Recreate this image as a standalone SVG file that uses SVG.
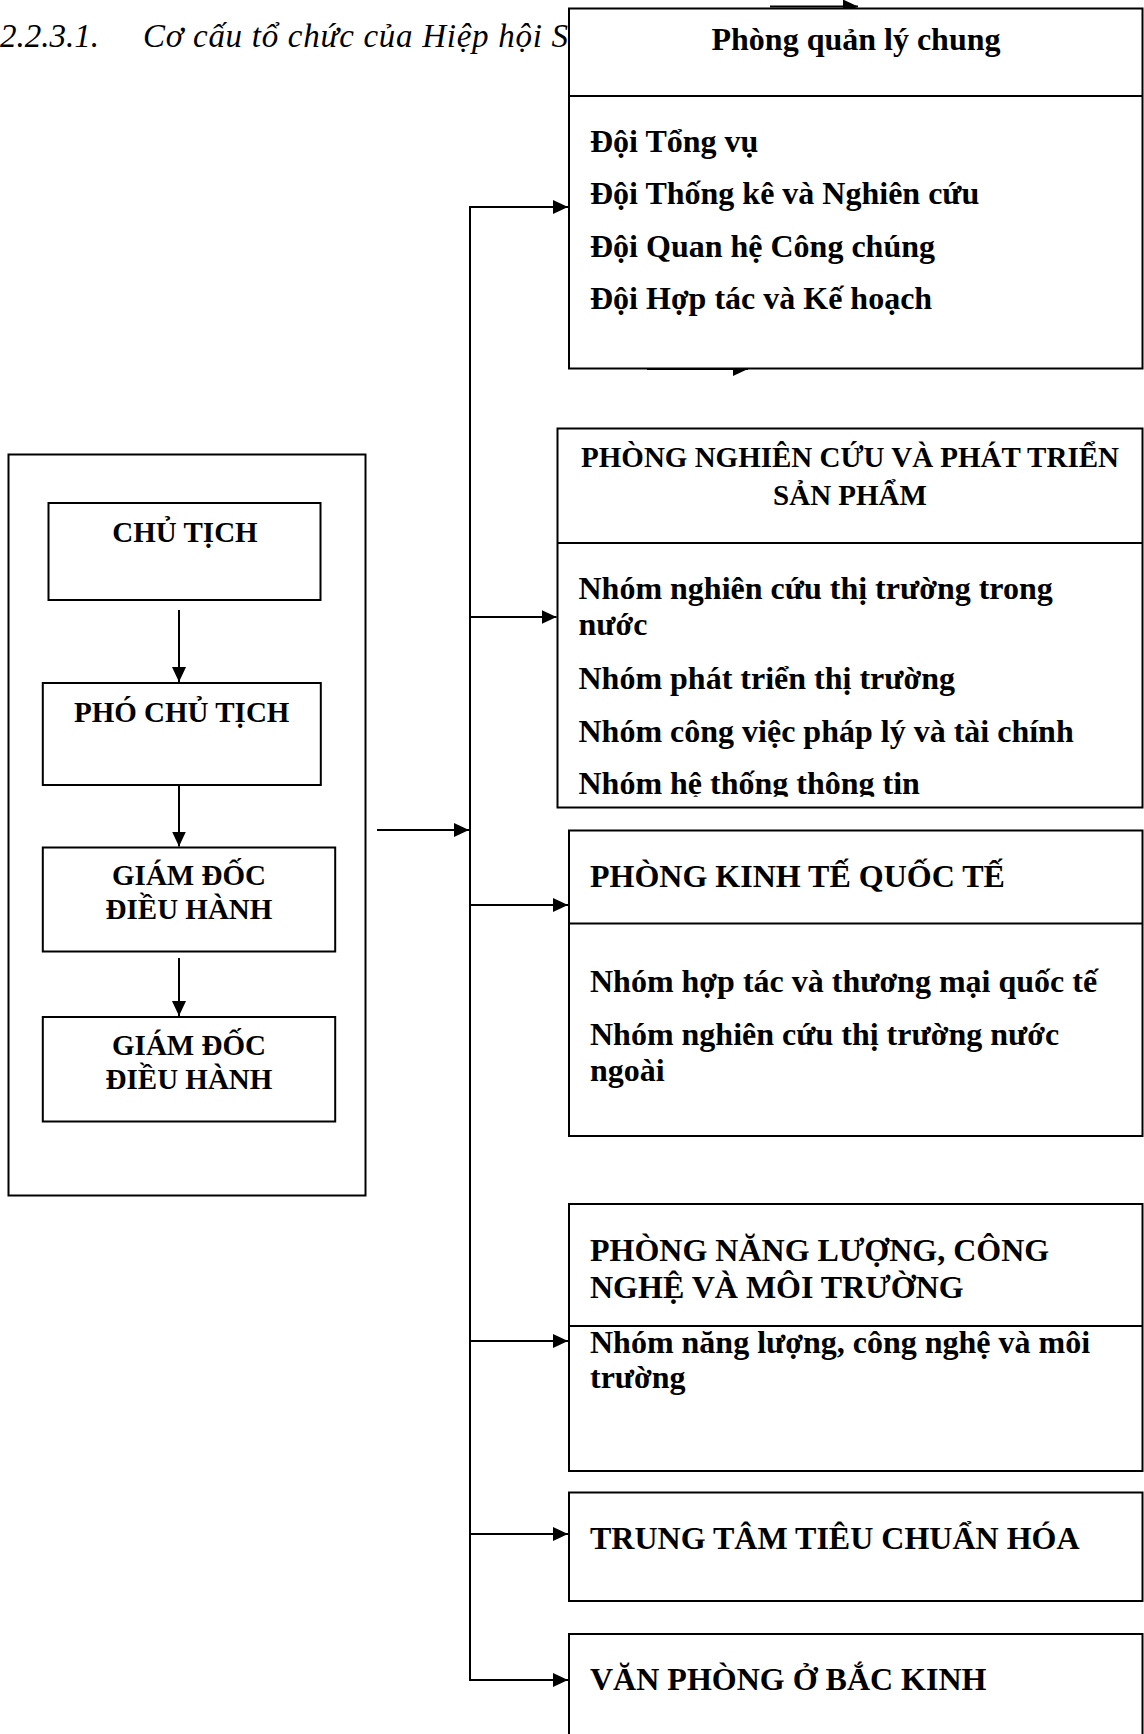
<svg xmlns="http://www.w3.org/2000/svg" width="1144" height="1734" viewBox="0 0 1144 1734">
<style>
.box{fill:#fff;stroke:#000;stroke-width:2}
.dv{stroke:#000;stroke-width:2}
.t{font-family:"Liberation Serif","Times New Roman",serif;font-weight:bold;font-size:32px;fill:#000}
.s{font-size:29px}
.c{text-anchor:middle}
.title{font-family:"Liberation Serif","Times New Roman",serif;font-style:italic;font-size:33px;fill:#000}
.con{stroke:#000;stroke-width:2;fill:none}
.arr{marker-end:url(#ah)}
</style>
<defs>
<marker id="ah" markerUnits="userSpaceOnUse" markerWidth="16" markerHeight="16" refX="15" refY="7" orient="auto"><path d="M0,0 L15,7 L0,14 Z" fill="#000"/></marker>
<clipPath id="clip2"><rect x="557" y="543" width="587" height="253.7"/></clipPath>
<clipPath id="outside1"><rect x="0" y="0" width="1144" height="8"/><rect x="0" y="368" width="1144" height="1366"/></clipPath>
</defs>

<g id="title">
<text class="title" x="0" y="47">2.2.3.1.</text>
<text class="title" x="143" y="47" textLength="425" lengthAdjust="spacing">Cơ cấu tổ chức của Hiệp hội S</text>
</g>

<g id="leadership">
<rect class="box" x="8.5" y="454.5" width="357" height="741"/>
<g id="chu-tich">
<rect class="box" x="48.5" y="503" width="272" height="97"/>
<text class="t s c" x="185" y="542">CHỦ TỊCH</text>
</g>
<g id="pho-chu-tich">
<rect class="box" x="42.8" y="683" width="278" height="102"/>
<text class="t s c" x="181.7" y="722">PHÓ CHỦ TỊCH</text>
</g>
<g id="giam-doc-1">
<rect class="box" x="42.8" y="847.5" width="292.4" height="104"/>
<text class="t s c" x="189" y="885">GIÁM ĐỐC</text>
<text class="t s c" x="189" y="919">ĐIỀU HÀNH</text>
</g>
<g id="giam-doc-2">
<rect class="box" x="42.8" y="1017" width="292.4" height="104.5"/>
<text class="t s c" x="189" y="1055">GIÁM ĐỐC</text>
<text class="t s c" x="189" y="1088.5">ĐIỀU HÀNH</text>
</g>
</g>

<g id="phong-quan-ly-chung">
<rect class="box" x="569" y="8.5" width="573.5" height="360"/>
<line class="dv" x1="569" y1="96" x2="1142.5" y2="96"/>
<text class="t c" x="856" y="50">Phòng quản lý chung</text>
<text class="t" x="590" y="152">Đội Tổng vụ</text>
<text class="t" x="590" y="204.3">Đội Thống kê và Nghiên cứu</text>
<text class="t" x="590" y="256.6">Đội Quan hệ Công chúng</text>
<text class="t" x="590" y="308.9">Đội Hợp tác và Kế hoạch</text>
</g>

<g id="phong-nghien-cuu">
<rect class="box" x="557.5" y="428.5" width="585" height="379"/>
<line class="dv" x1="557.5" y1="543" x2="1142.5" y2="543"/>
<text class="t s c" x="850" y="467">PHÒNG NGHIÊN CỨU VÀ PHÁT TRIỂN</text>
<text class="t s c" x="850" y="505">SẢN PHẨM</text>
<g clip-path="url(#clip2)">
<text class="t" x="578.5" y="599">Nhóm nghiên cứu thị trường trong</text>
<text class="t" x="578.5" y="635">nước</text>
<text class="t" x="578.5" y="689">Nhóm phát triển thị trường</text>
<text class="t" x="578.5" y="741.7">Nhóm công việc pháp lý và tài chính</text>
<text class="t" x="578.5" y="793.5">Nhóm hệ thống thông tin</text>
</g>
</g>

<g id="phong-kinh-te-quoc-te">
<rect class="box" x="569" y="830.5" width="573.5" height="305.5"/>
<line class="dv" x1="569" y1="923.5" x2="1142.5" y2="923.5"/>
<text class="t" x="590" y="887">PHÒNG KINH TẾ QUỐC TẾ</text>
<text class="t" x="590" y="991.7">Nhóm hợp tác và thương mại quốc tế</text>
<text class="t" x="590" y="1045">Nhóm nghiên cứu thị trường nước</text>
<text class="t" x="590" y="1081">ngoài</text>
</g>

<g id="phong-nang-luong">
<rect class="box" x="569" y="1204" width="573.5" height="267"/>
<line class="dv" x1="569" y1="1326" x2="1142.5" y2="1326"/>
<text class="t" x="590" y="1260.7">PHÒNG NĂNG LƯỢNG, CÔNG</text>
<text class="t" x="590" y="1297.7">NGHỆ VÀ MÔI TRƯỜNG</text>
<text class="t" x="590" y="1353.3">Nhóm năng lượng, công nghệ và môi</text>
<text class="t" x="590" y="1388.3">trường</text>
</g>

<g id="trung-tam-tieu-chuan-hoa">
<rect class="box" x="569" y="1492.5" width="573.5" height="108.5"/>
<text class="t" x="590" y="1549">TRUNG TÂM TIÊU CHUẨN HÓA</text>
</g>

<g id="van-phong-bac-kinh">
<rect class="box" x="569" y="1634" width="573.5" height="120"/>
<text class="t" x="590" y="1690">VĂN PHÒNG Ở BẮC KINH</text>
</g>

<g id="connectors">
<line class="con arr" x1="179" y1="610" x2="179" y2="682"/>
<line class="con arr" x1="179" y1="785" x2="179" y2="846.5"/>
<line class="con arr" x1="179" y1="958" x2="179" y2="1016"/>
<line class="con arr" x1="377" y1="830" x2="469" y2="830"/>
<line class="con" x1="470" y1="206" x2="470" y2="1681"/>
<line class="con arr" x1="469" y1="207" x2="568" y2="207"/>
<line class="con arr" x1="469" y1="617" x2="556.5" y2="617"/>
<line class="con arr" x1="469" y1="905" x2="568" y2="905"/>
<line class="con arr" x1="469" y1="1341" x2="568" y2="1341"/>
<line class="con arr" x1="469" y1="1534" x2="568" y2="1534"/>
<line class="con arr" x1="469" y1="1680" x2="568" y2="1680"/>
<g clip-path="url(#outside1)">
<line class="con arr" x1="770" y1="6.5" x2="858" y2="6.5"/>
<line class="con arr" x1="647" y1="369" x2="748" y2="369"/>
</g>
</g>
</svg>
